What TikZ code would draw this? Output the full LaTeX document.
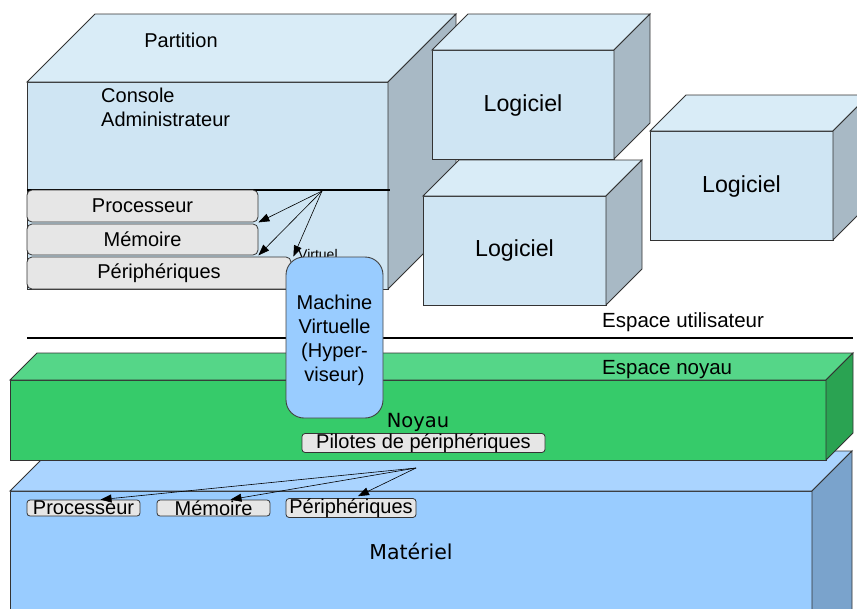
\documentclass[tikz,border=0pt]{standalone}
\usepackage{fontspec}
\setmainfont{Liberation Sans}
\newfontfamily\dejavu{DejaVu Sans}
\usetikzlibrary{arrows.meta}
\definecolor{pfront}{HTML}{CFE5F3}
\definecolor{ptop}{HTML}{D9ECF7}
\definecolor{pside}{HTML}{A8B9C5}
\definecolor{gfront}{HTML}{36CB6A}
\definecolor{gtop}{HTML}{55D688}
\definecolor{gside}{HTML}{2AA352}
\definecolor{bfront}{HTML}{99CCFF}
\definecolor{btop}{HTML}{AAD4FF}
\definecolor{bside}{HTML}{7AA3CC}
\definecolor{edgec}{HTML}{333333}
\definecolor{grayfill}{HTML}{E6E6E6}
\newcommand{\mycube}[8]{%
  \filldraw[fill=#6,cubeedge] (#1,#2) rectangle (#3,#4);
  \filldraw[fill=#7,cubeedge] (#1,#2) -- (#1+#5,#2-#5) -- (#3+#5,#2-#5) -- (#3,#2) -- cycle;
  \filldraw[fill=#8,cubeedge] (#3,#2) -- (#3+#5,#2-#5) -- (#3+#5,#4-#5) -- (#3,#4) -- cycle;
}
\begin{document}
\begin{tikzpicture}[x=1pt,y=-1pt,
  cubeedge/.style={draw=edgec,line width=0.9pt},
  lbl/.style={font=\fontsize{20}{24}\selectfont,inner sep=0pt},
  mlbl/.style={font=\fontsize{20.5}{24}\selectfont,inner sep=0pt},
  loglbl/.style={font=\fontsize{23.2}{26}\selectfont,inner sep=0pt},
  graybox/.style={draw=edgec,fill=grayfill,rounded corners=5pt,line width=0.8pt,inner sep=0pt,font=\fontsize{20}{24}\selectfont},
  sep/.style={line width=2.8pt,black},
  arr/.style={-{Triangle[length=11pt,width=8pt]},line width=0.6pt,black}]
\useasboundingbox (0,0) rectangle (857,608);
\clip (0,0) rectangle (857,608);
% hardware slab
\mycube{10}{491}{812}{720}{40}{bfront}{btop}{bside}
% kernel slab
\mycube{10}{380}{826}{460}{27}{gfront}{gtop}{gside}
% partition
\mycube{27}{82}{388}{289}{68}{pfront}{ptop}{pside}
% logiciels
\mycube{432}{50}{614}{159}{36}{pfront}{ptop}{pside}
\mycube{423}{196}{606}{305}{36}{pfront}{ptop}{pside}
\mycube{650}{131}{833}{240}{36}{pfront}{ptop}{pside}
% texts
\node[lbl] (part) at (181,40) {Partition};
\node[lbl,anchor=west,align=left] (cons) at (101,107) {Console\\Administrateur};
\node[loglbl] (log1) at (523,105) {Logiciel};
\node[loglbl] (log2) at (514.5,250) {Logiciel};
\node[loglbl] (log3) at (741.5,186) {Logiciel};
\node[mlbl,anchor=west] (eu) at (602,322) {Espace utilisateur};
\node[mlbl,anchor=west] (en) at (602,370) {Espace noyau};
\node[lbl,font=\dejavu\fontsize{19.5}{24}\selectfont] (noyau) at (418,422) {Noyau};
\node[lbl,font=\dejavu\fontsize{20.5}{24}\selectfont] (mat) at (411,551) {Matériel};
% separators
\coordinate (ps1) at (27,190);
\coordinate (ps2) at (390,190);
\draw[sep] (ps1) -- (ps2);
\coordinate (us1) at (27,338);
\coordinate (us2) at (853,338);
\draw[sep] (us1) -- (us2);
% virtual devices
\node[graybox,minimum width=231pt,minimum height=32pt] (vproc) at (142.5,206) {Processeur};
\node[graybox,minimum width=231pt,minimum height=31pt] (vmem) at (142.5,239.5) {Mémoire};
\node[graybox,minimum width=264pt,minimum height=32pt] (vperi) at (159,273) {Périphériques};
\node[inner sep=0pt,anchor=west,font=\fontsize{14}{16}\selectfont] (virt) at (298,254) {Virtuel};
\coordinate (vsrc) at (322,191);
\draw[arr] (vsrc) -- (vproc.south east);
\draw[arr] (vsrc) -- (vmem.south east);
\draw[arr] (vsrc) -- ([xshift=2pt]vperi.north east);
% hardware devices
\node[graybox,rounded corners=3pt,minimum width=113pt,minimum height=16pt] (hproc) at (83.5,508) {Processeur};
\node[graybox,rounded corners=3pt,minimum width=113pt,minimum height=16pt] (hmem) at (213.5,508) {Mémoire};
\node[graybox,rounded corners=3pt,minimum width=130pt,minimum height=16pt] (hperi) at (351,508) {Périphériques};
\node[graybox,rounded corners=3pt,minimum width=243pt,minimum height=16pt] (pil) at (423.5,443) {Pilotes de périphériques};
\coordinate (hsrc) at (416,468);
\draw[arr] (hsrc) -- ([xshift=17pt]hproc.north);
\draw[arr] (hsrc) -- ([xshift=17pt]hmem.north);
\draw[arr] (hsrc) -- ([xshift=7pt,yshift=2pt]hperi.north);
% hypervisor
\node[draw=edgec!80!gray,fill=bfront,rounded corners=18pt,line width=0.9pt,minimum width=97pt,minimum height=161pt,inner sep=0pt] (vm) at (334.5,337.5) {};
\node[align=center,font=\fontsize{20}{24}\selectfont,inner sep=0pt] (vmtext) at (334.5,340) {Machine\\Virtuelle\\(Hyper-\\viseur)};
\end{tikzpicture}
\end{document}
